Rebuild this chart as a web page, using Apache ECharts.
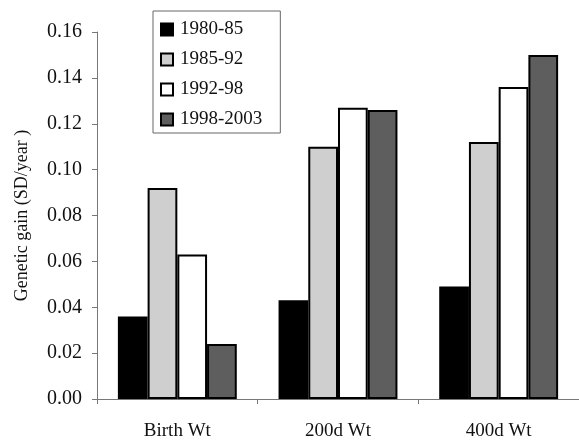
<!DOCTYPE html>
<html>
<head>
<meta charset="utf-8">
<script src="https://cdn.jsdelivr.net/npm/echarts@6/dist/echarts.min.js"></script>
<style>
  html, body { margin: 0; padding: 0; background: #fff; }
  #chart { width: 579px; height: 441px; }
</style>
</head>
<body>
<div id="chart"></div>
<script>
const categories = ["Birth Wt", "200d Wt", "400d Wt"];
const seriesNames = ["1980-85", "1985-92", "1992-98", "1998-2003"];
const gain1980 = [0.036, 0.043, 0.049];
const gain1985 = [0.092, 0.110, 0.112];
const gain1992 = [0.063, 0.127, 0.136];
const gain1998 = [0.024, 0.126, 0.150];

const fillColors = ["#000000", "#cfcfcf", "#ffffff", "#5e5e5e"];
const serif = "Liberation Serif";

const makeSeries = (name, values, color) => ({
    name,
    type: "bar",
    data: values,
    barGap: "0%",
    barCategoryGap: "26%",
    itemStyle: { color, borderColor: "#000", borderWidth: 2 }
});

const chart = echarts.init(document.getElementById("chart"));
chart.setOption({
    animation: false,
    backgroundColor: "#fff",
    textStyle: { fontFamily: serif },
    grid: { left: 97, top: 32, width: 492, height: 369 },
    legend: {
        orient: "vertical",
        left: 153,
        top: 11,
        padding: [9, 18, 4, 7],
        itemGap: 11,
        itemWidth: 12,
        itemHeight: 12,
        icon: "rect",
        borderColor: "#666",
        borderWidth: 1,
        textStyle: { fontFamily: serif, fontSize: 19, color: "#111", padding: [0, 0, 0, 2] },
        data: seriesNames
    },
    xAxis: {
        type: "category",
        data: categories,
        axisLine: { lineStyle: { color: "#777", width: 1 } },
        axisTick: { show: true, length: 5, lineStyle: { color: "#777" } },
        axisLabel: { fontFamily: serif, fontSize: 19, color: "#111", margin: 23 }
    },
    yAxis: {
        type: "value",
        min: 0,
        max: 0.16,
        interval: 0.02,
        name: "Genetic gain (SD/year )",
        nameLocation: "middle",
        nameGap: 66,
        nameTextStyle: { fontFamily: serif, fontSize: 18, color: "#111" },
        splitLine: { show: false },
        axisLine: { show: true, lineStyle: { color: "#777", width: 1 } },
        axisTick: { show: true, length: 5, lineStyle: { color: "#777" } },
        axisLabel: {
            fontFamily: serif,
            fontSize: 20,
            color: "#111",
            margin: 15,
            formatter: (v) => v.toFixed(2)
        }
    },
    series: [
        makeSeries(seriesNames[0], gain1980, fillColors[0]),
        makeSeries(seriesNames[1], gain1985, fillColors[1]),
        makeSeries(seriesNames[2], gain1992, fillColors[2]),
        makeSeries(seriesNames[3], gain1998, fillColors[3])
    ]
});
</script>
</body>
</html>
